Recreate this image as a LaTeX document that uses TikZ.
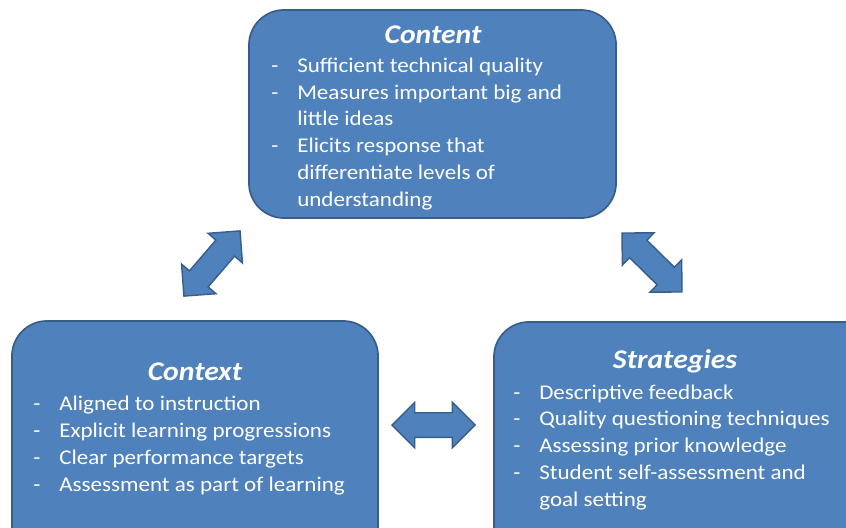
\documentclass[tikz,border=0pt]{standalone}
\usepackage{fontspec}
\setmainfont{Carlito}[FakeStretch=1.1]
\usetikzlibrary{shapes.arrows}

\definecolor{boxfill}{HTML}{4F81BD}
\definecolor{boxline}{HTML}{385D8A}

\newcommand{\dashitem}{\makebox[6.5mm][l]{-}}
\newcommand{\goon}{\hspace*{6.5mm}}

\tikzset{
  topicbox/.style={draw=boxline,fill=boxfill,line width=1.2pt,rounded corners=8.75mm,inner sep=0pt},
  topictitle/.style={anchor=base,text=white,inner sep=0pt,font=\fontsize{19.2pt}{23pt}\selectfont\bfseries\itshape},
  topiclist/.style={anchor=base west,text=white,inner sep=0pt,align=left,font=\fontsize{14.9pt}{19pt}\selectfont},
  linkarrow/.style={double arrow,draw=boxline,fill=boxfill,line width=1pt,inner xsep=0pt,inner ysep=2.9mm,
    double arrow head extend=2.6mm,double arrow tip angle=90}
}

\begin{document}
\begin{tikzpicture}[x=0.025cm,y=-0.025cm]
\useasboundingbox (0,0) rectangle (846,527);

\node[topicbox,minimum width=91.75mm,minimum height=52mm] (content) at (432.5,114) {};
\node[topicbox,minimum width=91.5mm,minimum height=62.25mm] (context) at (195,445.5) {};
\node[topicbox,minimum width=99mm,minimum height=62mm] (strategies) at (692,446) {};

\node[topictitle] (contenttitle) at (433,43) {Content};
\node[topiclist] (contentlist) at (271,206) {\dashitem Sufficient technical quality\\
\dashitem Measures important big and\\
\goon little ideas\\
\dashitem Elicits response that\\
\goon differentiate levels of\\
\goon understanding};

\node[topictitle] (contexttitle) at (195,380) {Context};
\node[topiclist] (contextlist) at (33,491) {\dashitem Aligned to instruction\\
\dashitem Explicit learning progressions\\
\dashitem Clear performance targets\\
\dashitem Assessment as part of learning};

\node[topictitle] (strategiestitle) at (675,368) {Strategies};
\node[topiclist] (strategieslist) at (513,506) {\dashitem Descriptive feedback\\
\dashitem Quality questioning techniques\\
\dashitem Assessing prior knowledge\\
\dashitem Student self-assessment and\\
\goon goal setting};

\node[linkarrow,minimum height=21.5mm,rotate=49.3] (leftlink) at (212,263.5) {};
\node[linkarrow,minimum height=21mm,rotate=-44.5] (rightlink) at (652,262.5) {};
\node[linkarrow,minimum height=20.75mm] (bottomlink) at (433.5,425) {};

\end{tikzpicture}
\end{document}
